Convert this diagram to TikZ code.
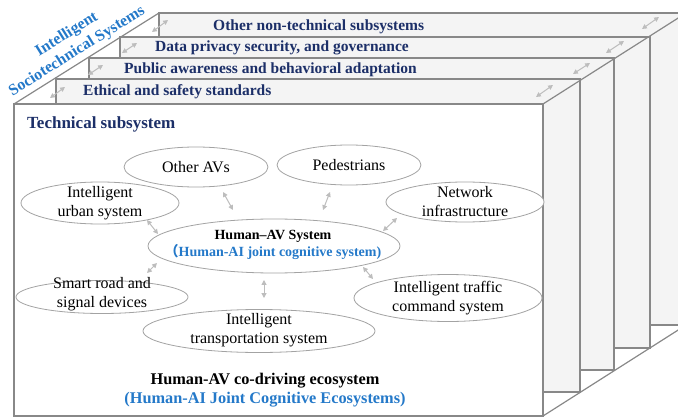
\documentclass[tikz,border=0pt]{standalone}
\usepackage{fontspec}
\setmainfont{Liberation Serif}
\newfontfamily\cjk{Noto Sans CJK SC}
\usetikzlibrary{shapes.geometric,arrows.meta}
\definecolor{navyc}{HTML}{1C2F68}
\definecolor{bluec}{HTML}{2479C9}
\definecolor{layerc}{HTML}{F4F4F4}
\definecolor{linec}{HTML}{888888}
\definecolor{ellc}{HTML}{A3A3A3}
\definecolor{arrc}{HTML}{BDBDBD}
\tikzset{
  layerbox/.style={fill=layerc, draw=linec, line width=1.2pt},
  frontbox/.style={fill=white, draw=linec, line width=1.3pt},
  diag/.style={draw=linec, line width=1.2pt},
  ell/.style={ellipse, draw=ellc, line width=0.8pt, fill=white, inner sep=0pt},
  etext/.style={align=center, inner sep=0pt, font=\fontsize{16}{19}\selectfont},
  laylabel/.style={anchor=west, inner sep=0pt, text=navyc, font=\bfseries\fontsize{15.5}{18}\selectfont},
  dar/.style={draw=arrc, line width=1pt, {Triangle[length=4.8pt,width=4.8pt]}-{Triangle[length=4.8pt,width=4.8pt]}}
}
\begin{document}
\begin{tikzpicture}[x=1pt,y=-1pt]
\useasboundingbox (0,0) rectangle (678,420);
\clip (0,0) rectangle (678,420);
% layers, back to front
\draw[layerbox] (159,13) rectangle (690,325);
\draw[layerbox] (120,37) rectangle (650,348);
\draw[layerbox] (89,58) rectangle (614,370);
\draw[layerbox] (56,79) rectangle (580,392);
\draw[frontbox] (14,104) rectangle (543,416);
% perspective edges
\draw[diag] (14,104) -- (159,13);
\draw[diag] (543,104) -- (690,10.5);
\draw[diag] (543,416) -- (690,322.5);
% layer labels
\node[laylabel] (l4) at (213,27) {Other non-technical subsystems};
\node[laylabel] (l3) at (155,48) {Data privacy security, and governance};
\node[laylabel] (l2) at (124,70) {Public awareness and behavioral adaptation};
\node[laylabel] (l1) at (83,92) {Ethical and safety standards};
\node[laylabel, font=\bfseries\fontsize{17}{20}\selectfont] (l0) at (27,124) {Technical subsystem};
\node[rotate=32, align=center, inner sep=0pt, text=bluec, font=\bfseries\fontsize{16}{19.5}\selectfont] (ist) at (72,43) {Intelligent\\Sociotechnical Systems};
% layer arrows
\coordinate (la1s) at (50,98);  \coordinate (la1e) at (65,87);
\coordinate (la2s) at (88,75);  \coordinate (la2e) at (103,65);
\coordinate (la3s) at (122,53); \coordinate (la3e) at (137,43);
\coordinate (la4s) at (152,32); \coordinate (la4e) at (168,20);
\coordinate (ra1s) at (536,97); \coordinate (ra1e) at (553,85);
\coordinate (ra2s) at (573,74); \coordinate (ra2e) at (590,63);
\coordinate (ra3s) at (606,53); \coordinate (ra3e) at (624,41);
\coordinate (ra4s) at (642,29); \coordinate (ra4e) at (659,17);
\foreach \a in {la1,la2,la3,la4,ra1,ra2,ra3,ra4}{\draw[dar] (\a s) -- (\a e);}
% ellipses
\node[ell, minimum width=144pt, minimum height=40pt] (oth) at (196,167) {};
\node[etext] (otht) at (oth) {Other AVs};
\node[ell, minimum width=144pt, minimum height=40pt] (ped) at (349,165) {};
\node[etext] (pedt) at (ped) {Pedestrians};
\node[ell, minimum width=158pt, minimum height=42pt] (urb) at (100,203) {};
\node[etext] (urbt) at (urb) {Intelligent\\urban system};
\node[ell, minimum width=158pt, minimum height=40pt] (net) at (465,202) {};
\node[etext] (nett) at (net) {Network\\infrastructure};
\node[ell, minimum width=252pt, minimum height=54pt] (hav) at (274,246) {};
\node[align=center, inner sep=0pt, font=\bfseries\fontsize{14}{16.5}\selectfont] (havt) at (273,245) {Human–AV System\\\textcolor{bluec}{{\cjk （}Human-AI joint cognitive system)}};
\node[ell, minimum width=172pt, minimum height=33pt] (smr) at (102,297) {};
\node[etext] (smrt) at (102,294) {Smart road and\\signal devices};
\node[ell, minimum width=232pt, minimum height=43pt] (trn) at (259,331) {};
\node[etext] (trnt) at (259,330) {Intelligent\\transportation system};
\node[ell, minimum width=188pt, minimum height=47pt] (tcs) at (448,298) {};
\node[etext] (tcst) at (448,298) {Intelligent traffic\\command system};
% ellipse arrows
\coordinate (e1s) at (223,192); \coordinate (e1e) at (233,210);
\coordinate (e2s) at (330,192); \coordinate (e2e) at (323,210);
\coordinate (e3s) at (147,220); \coordinate (e3e) at (158,234);
\coordinate (e4s) at (397,218); \coordinate (e4e) at (383,231);
\coordinate (e5s) at (157,263); \coordinate (e5e) at (147,273);
\coordinate (e6s) at (264,280); \coordinate (e6e) at (264,298);
\coordinate (e7s) at (363,267); \coordinate (e7e) at (373,279);
\foreach \a in {e1,e2,e3,e4,e5,e6,e7}{\draw[dar] (\a s) -- (\a e);}
% bottom titles
\node[align=center, inner sep=0pt, font=\bfseries\fontsize{16.3}{19}\selectfont] (eco) at (265,390) {Human-AV co-driving ecosystem\\\textcolor{bluec}{(Human-AI Joint Cognitive Ecosystems)}};
\end{tikzpicture}
\end{document}
